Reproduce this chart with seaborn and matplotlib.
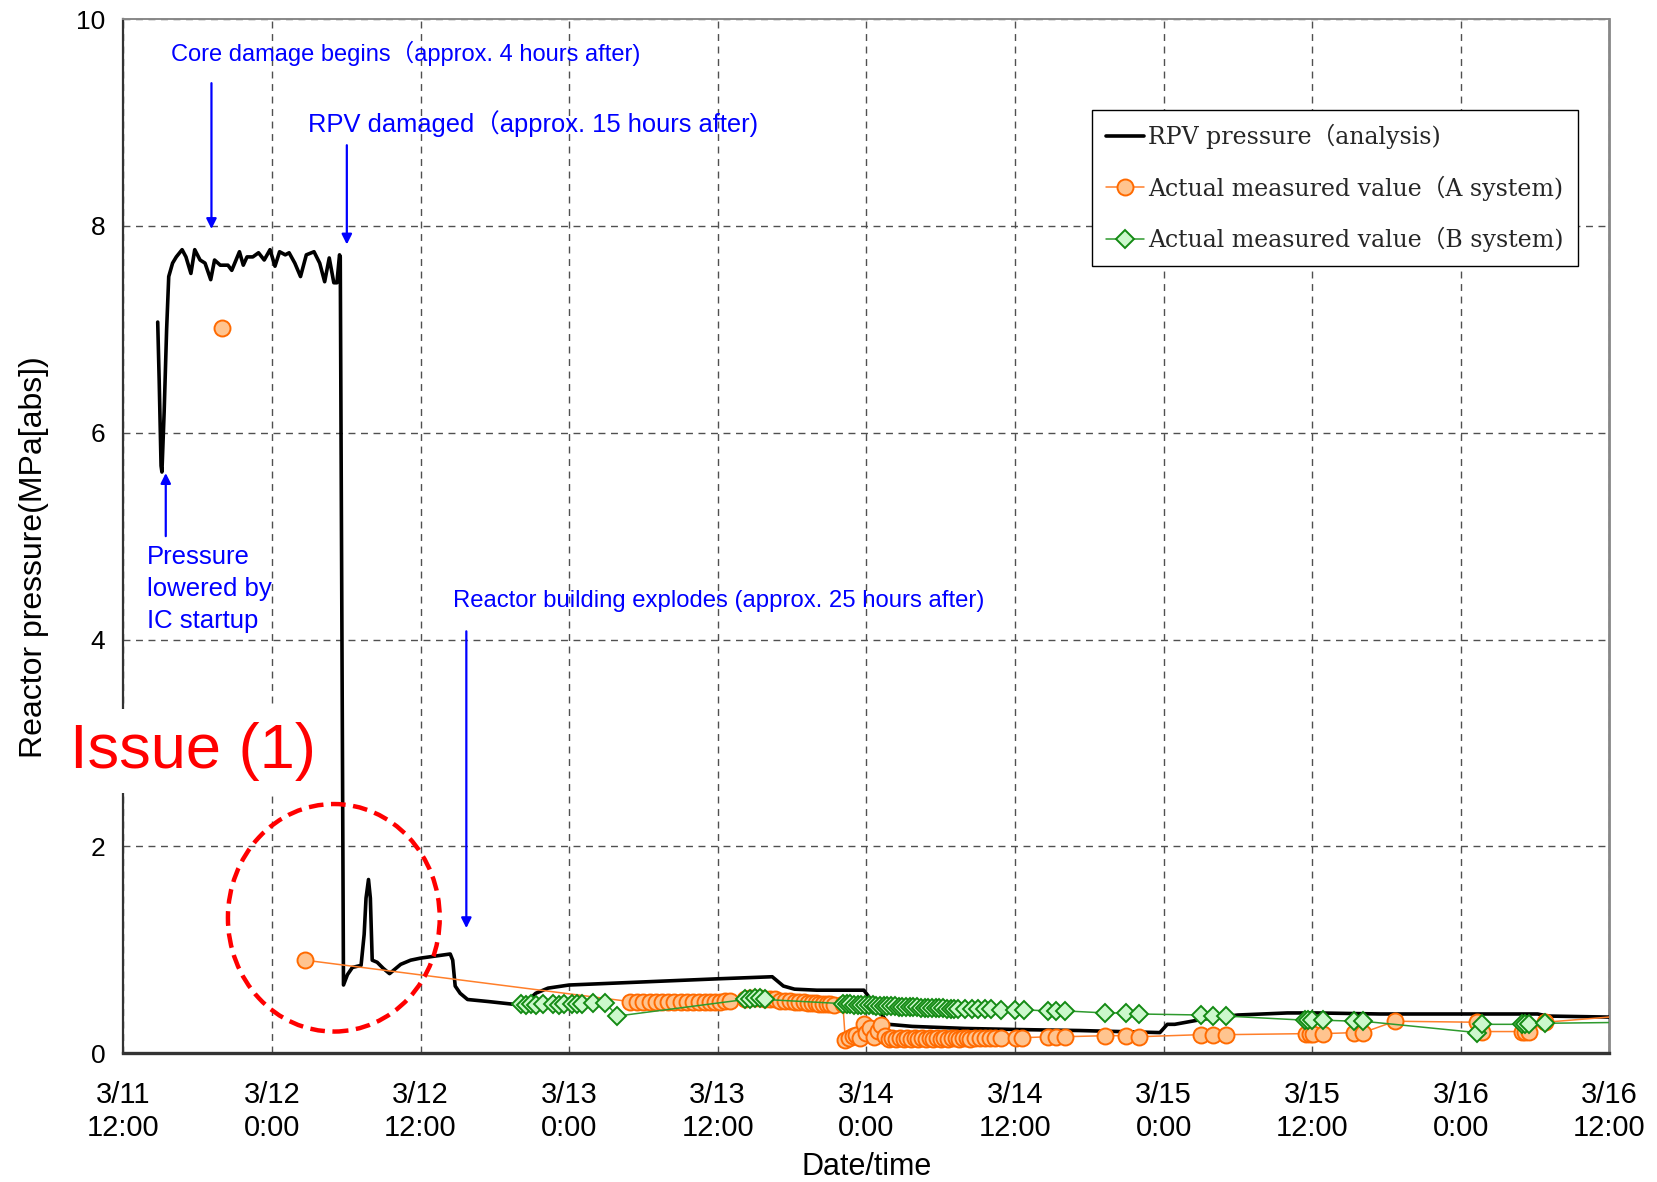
import matplotlib
matplotlib.use("Agg")
import matplotlib.pyplot as plt
import seaborn as sns
import pandas as pd
from matplotlib.patches import Ellipse
from matplotlib.lines import Line2D

# ---------------- data (hours after 3/11 12:00, pressure MPa[abs]) ----------------
rpv_hours = [2.78, 2.9, 3.05, 3.12, 3.3, 3.5, 3.67, 3.98, 4.28, 4.75, 5.06, 5.46, 5.77, 6.20,
             6.60, 7.06, 7.37, 7.83, 8.45, 8.76, 9.38, 9.69, 9.99, 10.46, 10.92, 11.38, 11.85,
             12.25, 12.62, 13.08, 13.39, 13.85, 14.31, 14.78, 15.40, 15.86, 16.26, 16.63, 17.0,
             17.25, 17.46, 17.52, 17.78, 18.1, 18.5, 19.2, 19.45, 19.6, 19.8, 19.95, 20.1, 20.5,
             21.0, 21.5, 21.9, 22.4, 23.2, 24.0, 25.2, 26.4, 26.6, 26.8, 27.2, 27.8, 29.5, 31.8,
             32.6, 33.3, 34.3, 36.0, 40.0, 44.0, 48.0, 52.4, 52.8, 53.3, 54.2, 56.0, 59.8, 60.3,
             60.8, 61.8, 63.7, 68.0, 72.0, 77.2, 83.7, 84.0, 84.3, 84.9, 87.2, 90.0, 94.0, 96.4,
             101.5, 108.0, 114.2, 115.0, 120.0]
rpv_pressure = [7.07, 6.5, 5.68, 5.62, 6.2, 7.0, 7.51, 7.64, 7.70, 7.77, 7.70, 7.54, 7.77, 7.67,
                7.64, 7.48, 7.67, 7.62, 7.62, 7.57, 7.75, 7.62, 7.70, 7.70, 7.74, 7.67, 7.77,
                7.61, 7.75, 7.72, 7.74, 7.64, 7.51, 7.72, 7.75, 7.64, 7.46, 7.69, 7.45,
                7.45, 7.72, 7.70, 0.66, 0.76, 0.83, 0.85, 1.15, 1.5, 1.68, 1.5, 0.90, 0.88,
                0.82, 0.77, 0.81, 0.86, 0.90, 0.92, 0.94, 0.96, 0.90, 0.65, 0.58, 0.52, 0.50, 0.47,
                0.50, 0.58, 0.63, 0.66, 0.68, 0.70, 0.72, 0.74, 0.70, 0.65, 0.62, 0.61, 0.61, 0.53,
                0.45, 0.28, 0.26, 0.24, 0.23, 0.22, 0.20, 0.24, 0.28, 0.28, 0.33, 0.37, 0.39, 0.39,
                0.38, 0.38, 0.38, 0.36, 0.35]

# isolated early A-system reading (not joined to the rest)
a_early_hours = [8.0]
a_early_pressure = [7.01]

a_hours = [14.7,
           40.9, 41.5, 42.0, 42.5, 43.0, 43.5, 44.0, 44.5, 45.0, 45.5, 46.0, 46.5, 47.0, 47.4,
           47.8, 48.2, 48.6, 49.0,
           50.2, 50.6, 51.0, 51.4, 51.8, 52.2, 52.6, 53.0, 53.4, 53.8, 54.2, 54.6, 55.0, 55.3,
           55.6, 55.9, 56.2, 56.5, 56.8, 57.1, 57.4, 58.1,
           58.3, 58.6, 58.9, 59.2, 59.5, 59.8, 60.0, 60.3, 60.6, 60.9, 61.2, 61.5, 61.8,
           62.1, 62.4, 62.7, 63.0, 63.3, 63.6, 63.9, 64.2, 64.5, 64.8, 65.1, 65.4, 65.7, 66.0,
           66.3, 66.6, 66.9, 67.2, 67.5, 67.8, 68.1, 68.4, 68.8, 69.2, 69.6, 70.0, 70.4, 70.9,
           72.1, 72.6, 74.7, 75.3, 76.0, 79.3, 81.0, 82.0, 87.0, 88.0, 89.0, 95.5, 95.8, 96.1,
           96.9, 99.4, 100.1, 102.7, 109.3, 109.7, 112.9, 113.2, 113.5, 114.8, 122.0]
a_pressure = [0.90,
              0.50, 0.50, 0.50, 0.50, 0.50, 0.50, 0.50, 0.50, 0.50, 0.50, 0.50, 0.50, 0.50, 0.50,
              0.50, 0.50, 0.51, 0.51,
              0.52, 0.53, 0.53, 0.53, 0.52, 0.52, 0.52, 0.51, 0.51, 0.51, 0.50, 0.50, 0.50, 0.49,
              0.49, 0.49, 0.48, 0.48, 0.48, 0.48, 0.47, 0.48,
              0.13, 0.15, 0.17, 0.18, 0.15, 0.28, 0.20, 0.24, 0.16, 0.22, 0.27, 0.17, 0.14,
              0.15, 0.14, 0.15, 0.14, 0.15, 0.14, 0.15, 0.14, 0.15, 0.14, 0.15, 0.14, 0.15, 0.14,
              0.15, 0.14, 0.15, 0.15, 0.14, 0.15, 0.15, 0.14, 0.15, 0.15, 0.15, 0.15, 0.15, 0.15,
              0.15, 0.15, 0.16, 0.16, 0.16, 0.17, 0.17, 0.16, 0.18, 0.18, 0.18, 0.19, 0.19, 0.19,
              0.19, 0.20, 0.20, 0.31, 0.30, 0.21, 0.21, 0.21, 0.21, 0.30, 0.37]

b_hours = [32.1, 32.5, 32.9, 33.3, 33.9, 34.7, 35.2, 35.6, 36.2, 36.6, 37.0, 37.9, 38.9, 39.9,
           50.2, 50.6, 51.0, 51.4, 51.8,
           58.1, 58.4, 58.7, 59.0, 59.3, 59.6, 59.9, 60.2, 60.5, 60.8, 61.1, 61.4, 61.7, 62.0,
           62.3, 62.6, 62.9, 63.2, 63.5, 63.8, 64.1, 64.4, 64.7, 65.0, 65.3, 65.6, 65.9, 66.2,
           66.5, 66.8, 67.1, 67.4,
           68.0, 68.5, 69.0, 69.6, 70.1, 70.9, 72.0, 72.7, 74.7, 75.3, 76.0, 79.3, 81.0, 82.0,
           87.0, 88.0, 89.0, 95.4, 95.7, 96.0, 96.9, 99.4, 100.1, 109.3, 109.7, 112.9, 113.2,
           113.5, 114.8, 122.0]
b_pressure = [0.48, 0.47, 0.48, 0.47, 0.48, 0.48, 0.47, 0.48, 0.48, 0.48, 0.48, 0.49, 0.49, 0.36,
              0.52, 0.52, 0.53, 0.53, 0.52,
              0.48, 0.48, 0.48, 0.47, 0.47, 0.47, 0.47, 0.47, 0.47, 0.46, 0.46, 0.46, 0.46, 0.46,
              0.46, 0.45, 0.45, 0.45, 0.45, 0.45, 0.45, 0.44, 0.44, 0.44, 0.44, 0.44, 0.44, 0.44,
              0.43, 0.43, 0.43, 0.43,
              0.43, 0.43, 0.43, 0.43, 0.43, 0.42, 0.42, 0.42, 0.41, 0.41, 0.41, 0.39, 0.39, 0.38,
              0.37, 0.36, 0.36, 0.32, 0.32, 0.32, 0.32, 0.31, 0.31, 0.20, 0.28, 0.28, 0.28,
              0.28, 0.29, 0.30]

tick_hours = [0, 12, 24, 36, 48, 60, 72, 84, 96, 108, 120]
tick_labels = ["3/11\n12:00", "3/12\n0:00", "3/12\n12:00", "3/13\n0:00", "3/13\n12:00",
               "3/14\n0:00", "3/14\n12:00", "3/15\n0:00", "3/15\n12:00", "3/16\n0:00",
               "3/16\n12:00"]
y_ticks = [0, 2, 4, 6, 8, 10]
legend_labels = ["RPV pressure（analysis)", "Actual measured value（A system)",
                 "Actual measured value（B system)"]

assert len(rpv_hours) == len(rpv_pressure)
assert len(a_hours) == len(a_pressure)
assert len(b_hours) == len(b_pressure)

rpv_df = pd.DataFrame({"hour": rpv_hours, "pressure": rpv_pressure})
a_df = pd.DataFrame({"hour": a_hours, "pressure": a_pressure})
a_early_df = pd.DataFrame({"hour": a_early_hours, "pressure": a_early_pressure})
b_df = pd.DataFrame({"hour": b_hours, "pressure": b_pressure})

# ---------------- style ----------------
sns.set_theme(style="white")
SANS = ["Liberation Sans", "Noto Sans CJK JP", "DejaVu Sans"]
plt.rcParams["font.family"] = SANS

ORANGE_EDGE = "#FF6A00"
ORANGE_FILL = "#FFC48F"
ORANGE_LINE = "#FF7F2A"
GREEN_EDGE = "#138A13"
GREEN_FILL = "#CCF8CC"
GREEN_LINE = "#2E9A2E"
BLUE = "#0000FF"

A_MARK = dict(marker="o", markersize=11.5, markerfacecolor=ORANGE_FILL,
              markeredgecolor=ORANGE_EDGE, markeredgewidth=1.4)
B_MARK = dict(marker="D", markersize=9.5, markerfacecolor=GREEN_FILL,
              markeredgecolor=GREEN_EDGE, markeredgewidth=1.4)

fig = plt.figure(figsize=(16.57, 11.82), dpi=100)
ax = fig.add_axes([0.0744, 0.1089, 0.8969, 0.8750])

sns.lineplot(data=rpv_df, x="hour", y="pressure", ax=ax, color="black", lw=2.6,
             estimator=None, sort=False, zorder=3)
sns.lineplot(data=a_df, x="hour", y="pressure", ax=ax, color=ORANGE_LINE, lw=1.1,
             estimator=None, sort=False, zorder=4, **A_MARK)
sns.lineplot(data=a_early_df, x="hour", y="pressure", ax=ax, color=ORANGE_LINE, lw=0,
             estimator=None, sort=False, zorder=4, **A_MARK)
sns.lineplot(data=b_df, x="hour", y="pressure", ax=ax, color=GREEN_LINE, lw=1.1,
             estimator=None, sort=False, zorder=5, **B_MARK)

ax.set_xlim(0, 120)
ax.set_ylim(0, 10)
ax.set_xticks(tick_hours)
ax.set_xticklabels(tick_labels, fontsize=21, color="black", linespacing=1.22)
ax.set_yticks(y_ticks)
ax.set_yticklabels([str(v) for v in y_ticks], fontsize=19, color="black")
ax.tick_params(axis="both", length=0)
ax.tick_params(axis="x", pad=20)
ax.tick_params(axis="y", pad=13)

ax.grid(True, color="#505050", lw=1.0, linestyle=(0, (5, 4)))
ax.set_axisbelow(True)
for side, col, lw in [("left", "#333333", 1.6), ("bottom", "#333333", 2.4),
                      ("top", "#888888", 1.4), ("right", "#888888", 2.0)]:
    ax.spines[side].set_visible(True)
    ax.spines[side].set_color(col)
    ax.spines[side].set_linewidth(lw)

ax.set_ylabel("Reactor pressure(MPa[abs])", fontsize=23, color="black")
ax.yaxis.set_label_coords(-0.05, 0.48)
ax.set_xlabel("Date/time", fontsize=22, color="black")
ax.xaxis.set_label_coords(0.5, -0.095)

# ---------------- annotations ----------------
arrow_kw = dict(arrowstyle="-|>", color=BLUE, lw=1.6, mutation_scale=15, shrinkA=0, shrinkB=0)
ax.annotate("", xy=(7.12, 7.97), xytext=(7.12, 9.38), arrowprops=arrow_kw)
ax.annotate("", xy=(18.05, 7.82), xytext=(18.05, 8.78), arrowprops=arrow_kw)
ax.annotate("", xy=(27.7, 1.21), xytext=(27.7, 4.08), arrowprops=arrow_kw)
ax.annotate("", xy=(3.43, 5.61), xytext=(3.43, 5.0), arrowprops=arrow_kw)

ax.text(3.85, 9.67, "Core damage begins（approx. 4 hours after)", color=BLUE,
        fontsize=17, ha="left", va="center")
ax.text(14.9, 8.99, "RPV damaged（approx. 15 hours after)", color=BLUE,
        fontsize=18.4, ha="left", va="center")
ax.text(26.6, 4.37, "Reactor building explodes (approx. 25 hours after)", color=BLUE,
        fontsize=17.2, ha="left", va="center")
ax.text(1.9, 4.91, "Pressure\nlowered by\nIC startup", color=BLUE, fontsize=18.5,
        ha="left", va="top", linespacing=1.42)

ax.text(-4.3, 2.92, "Issue (1)", color="red", fontsize=45.5, ha="left", va="center",
        bbox=dict(fc="white", ec="none", pad=9), clip_on=False, zorder=10)

ax.add_patch(Ellipse((17.0, 1.31), width=17.1, height=2.2, fill=False, ec="red",
                     lw=3.2, linestyle=(0, (3.3, 1.7)), zorder=6))

# ---------------- legend ----------------
handles = [
    Line2D([], [], color="black", lw=2.6),
    Line2D([], [], color=ORANGE_LINE, lw=1.1, **A_MARK),
    Line2D([], [], color=GREEN_LINE, lw=1.1, **B_MARK),
]
leg = ax.legend(handles, legend_labels, loc="upper left", bbox_to_anchor=(0.6516, 0.912),
                frameon=True, fancybox=False, shadow=False, framealpha=1,
                edgecolor="black", borderpad=0.6, labelspacing=1.1, handlelength=1.6,
                handletextpad=0.2, borderaxespad=0,
                prop={"family": ["DejaVu Serif", "Noto Sans CJK JP"], "size": 17})
leg.get_frame().set_linewidth(1.0)
leg.set_zorder(12)

fig.savefig("out.png", dpi=100, facecolor="white")
